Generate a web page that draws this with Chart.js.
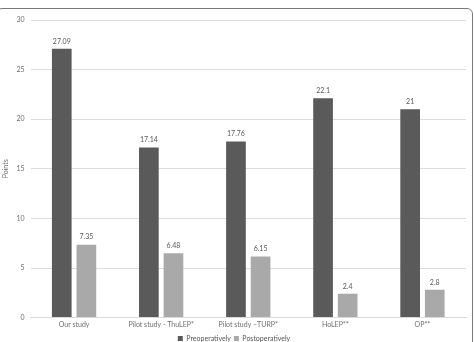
<!DOCTYPE html>
<html>
<head>
<meta charset="utf-8">
<script src="https://cdn.jsdelivr.net/npm/chart.js@4"></script>
<style>
  html, body { margin: 0; padding: 0; background: #fff; overflow: hidden; }
  #wrap { position: relative; width: 474px; height: 352px; }
  #frame { position: absolute; left: -4px; top: 8px; width: 477px; height: 400px;
           border: 1.5px solid #7a7a7a; border-radius: 6px; box-sizing: border-box; pointer-events: none; }
</style>
</head>
<body>
<div id="wrap">
  <canvas id="myChart"></canvas>
  <div id="frame"></div>
</div>
<script>
/* Points before and after surgery */
const labels = ["Our study", "Pilot study - ThuLEP*", "Pilot study \u2013TURP*", "HoLEP**", "OP**"];
const preValues = [27.09, 17.14, 17.76, 22.1, 21];
const postValues = [7.35, 6.48, 6.15, 2.4, 2.8];
const yTicks = [0, 5, 10, 15, 20, 25, 30];

Chart.defaults.font.family = "Lato, 'Open Sans', sans-serif";
Chart.defaults.color = "#6f6f6f";

// value labels above each bar
const valueLabels = {
  id: "valueLabels",
  afterDatasetsDraw(chart) {
    const ctx = chart.ctx;
    ctx.save();
    ctx.font = "7px Lato, sans-serif";
    ctx.fillStyle = "#595959";
    ctx.textAlign = "center";
    ctx.textBaseline = "bottom";
    chart.data.datasets.forEach((ds, i) => {
      chart.getDatasetMeta(i).data.forEach((bar, j) => {
        ctx.fillText(String(ds.data[j]), bar.x, bar.y - 4);
      });
    });
    ctx.restore();
  }
};

const config = {
  type: "bar",
  data: {
    labels: labels,
    datasets: [
      {
        label: "Preoperatively",
        data: preValues,
        backgroundColor: "#5a5a5a",
        barPercentage: 0.8,
        categoryPercentage: 0.565,
      },
      {
        label: "Postoperatively",
        data: postValues,
        backgroundColor: "#a9a9a9",
        barPercentage: 0.8,
        categoryPercentage: 0.565,
      },
    ],
  },
  options: {
    responsive: false,
    animation: false,
    layout: { padding: { top: 20, right: 8, left: 2, bottom: 0 } },
    plugins: {
      legend: {
        position: "bottom",
        labels: { boxWidth: 5, boxHeight: 5, padding: 3, font: { size: 7 }, color: "#555" },
      },
      tooltip: { enabled: false },
    },
    scales: {
      x: {
        grid: { display: false, drawTicks: false },
        border: { color: "#d9d9d9" },
        ticks: { font: { size: 7 }, padding: 3, maxRotation: 0 },
      },
      y: {
        min: 0,
        max: 30,
        afterBuildTicks: (axis) => { axis.ticks = yTicks.map(v => ({ value: v })); },
        grid: { color: "#dcdcdc", drawTicks: false },
        border: { display: false },
        ticks: { font: { size: 7 }, padding: 6 },
        title: { display: true, text: "Points", font: { size: 7 }, padding: 0 },
      },
    },
  },
  plugins: [valueLabels],
};

const canvas = document.getElementById("myChart");
canvas.width = 474;
canvas.height = 352;
var myChart = new Chart(canvas, config);
</script>
</body>
</html>
